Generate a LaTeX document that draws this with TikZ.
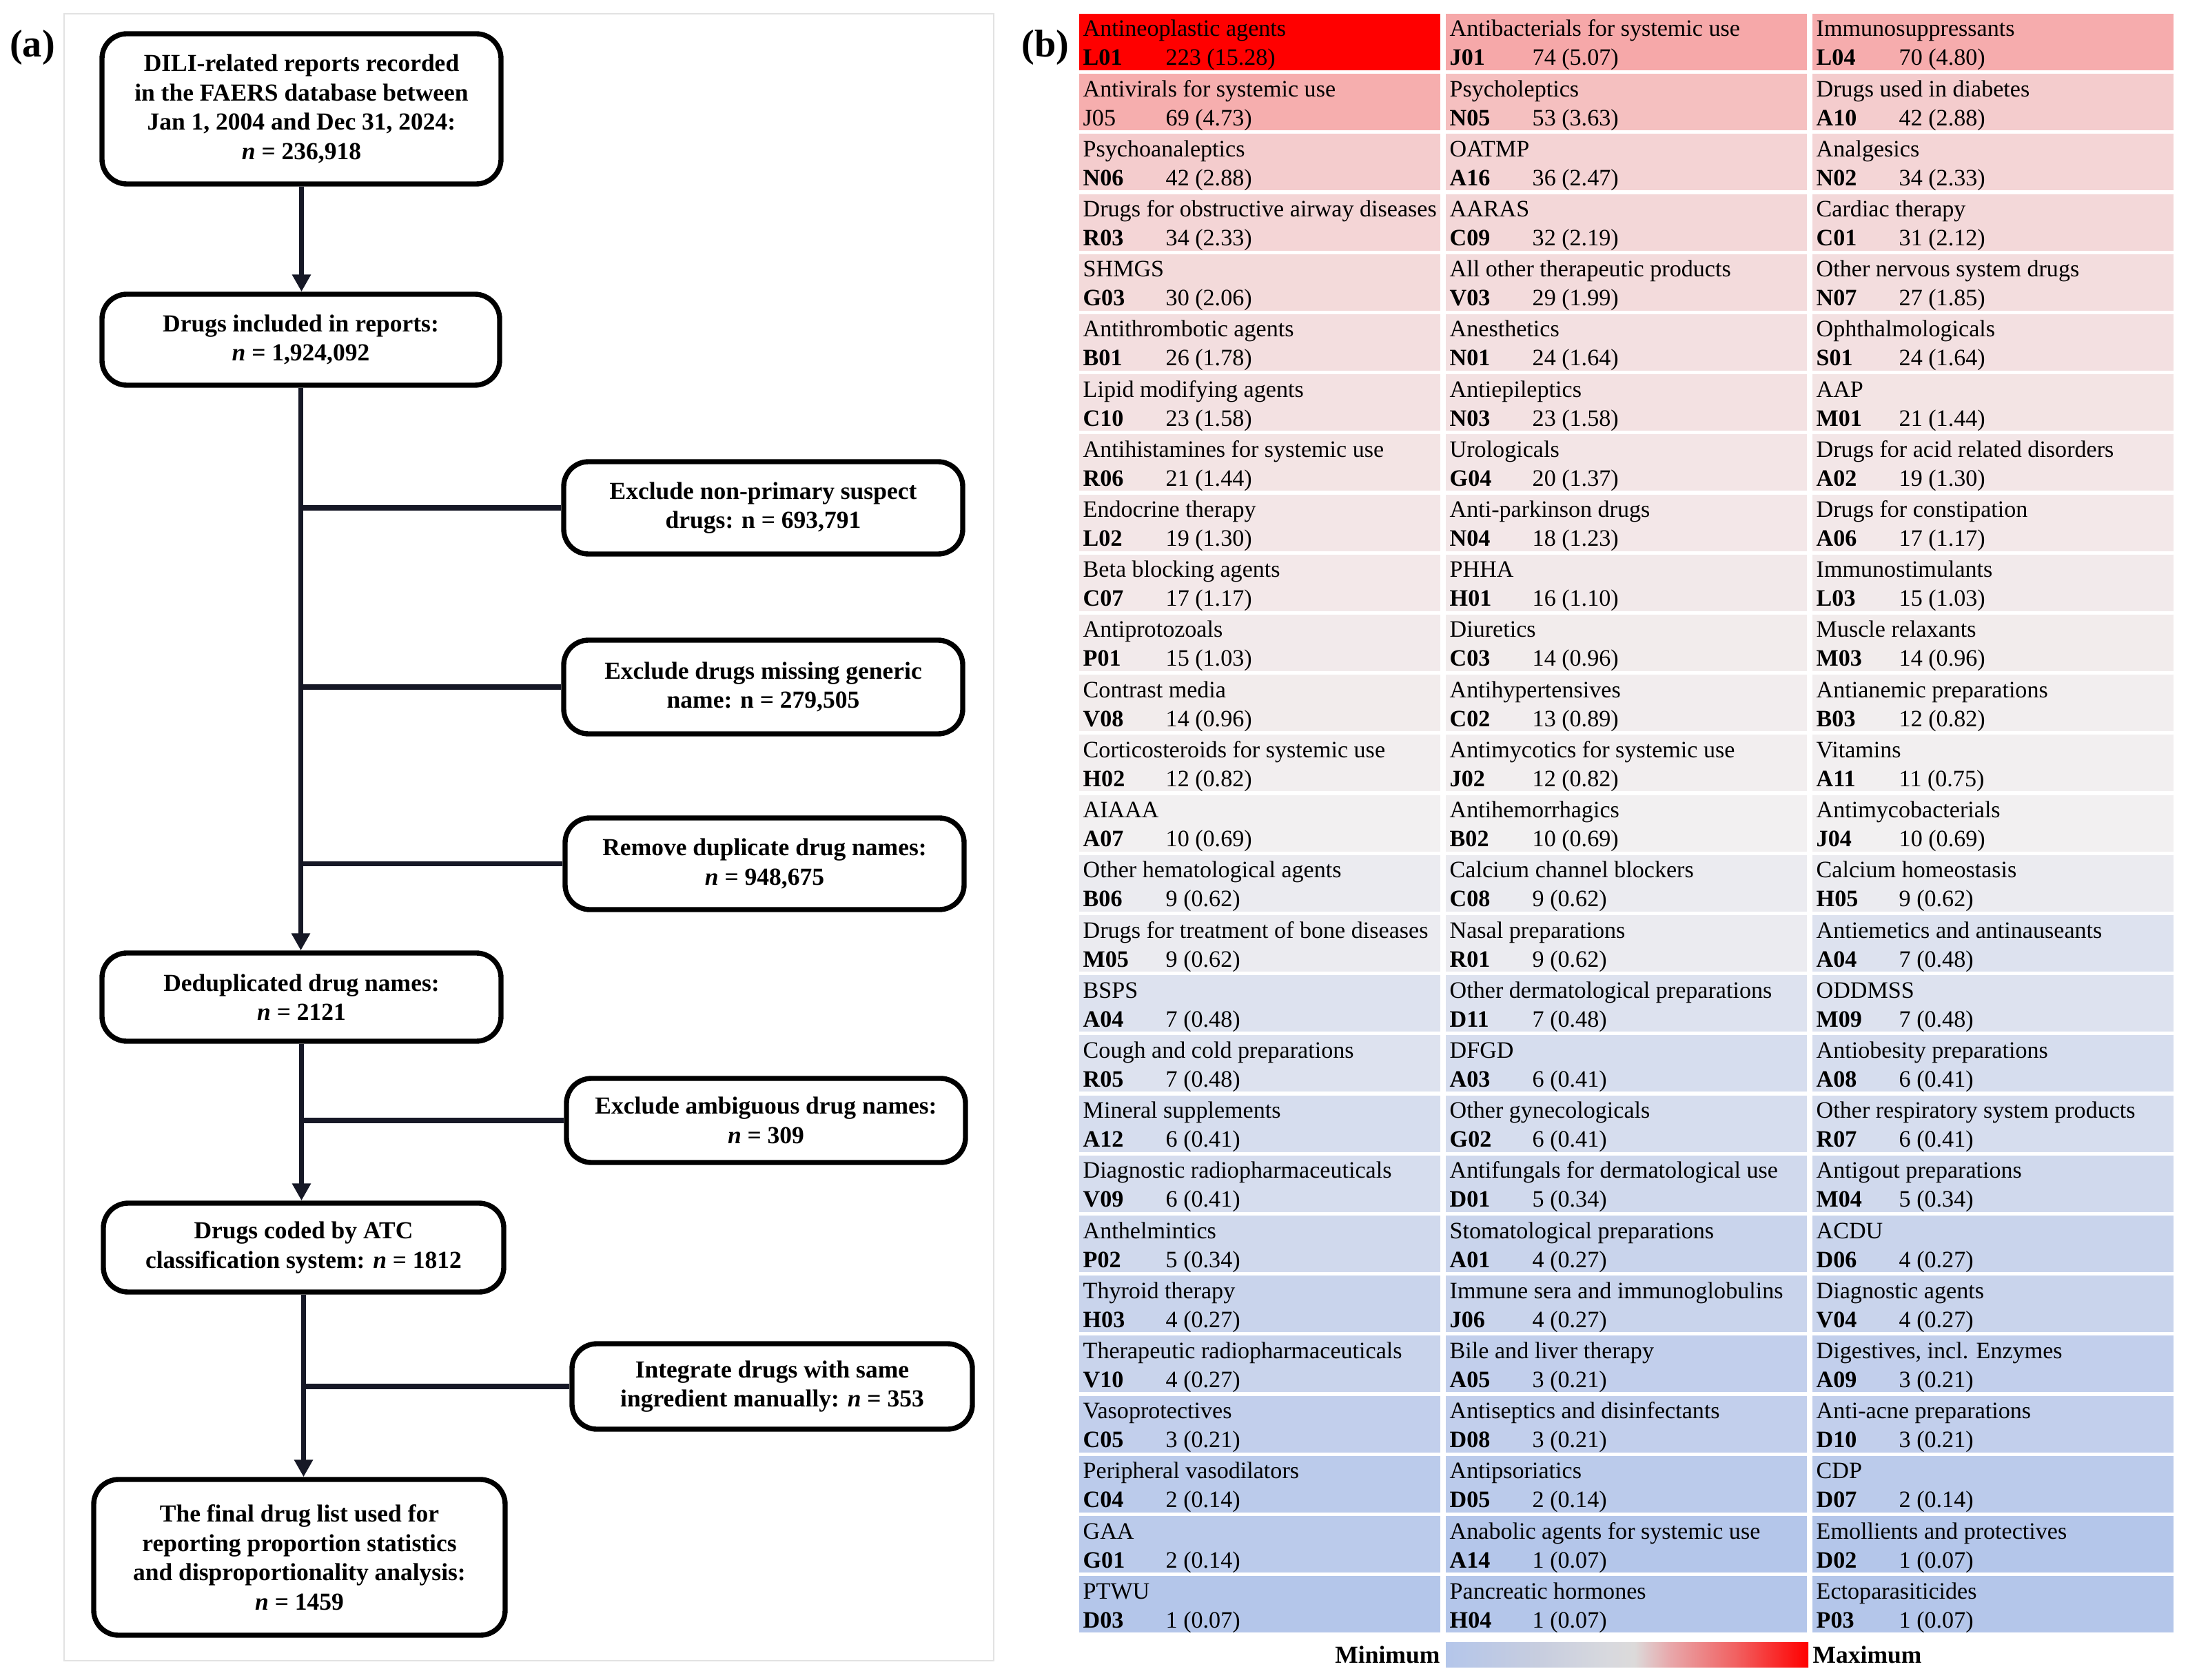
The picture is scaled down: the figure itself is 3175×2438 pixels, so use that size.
\documentclass[tikz,border=0pt]{standalone}
\usepackage{fontspec}
\setmainfont{Liberation Serif}
\usetikzlibrary{arrows.meta}
\definecolor{lowb}{RGB}{180,198,234}
\definecolor{midg}{RGB}{242,240,241}
\definecolor{hired}{RGB}{255,0,0}
\definecolor{trunk}{RGB}{22,24,38}
\definecolor{panelb}{RGB}{226,226,226}
\pgfdeclarehorizontalshading{cbarshade}{100bp}{rgb(0bp)=(0.706,0.776,0.918); rgb(25bp)=(0.706,0.776,0.918); rgb(37.5bp)=(0.780,0.804,0.875); rgb(47.5bp)=(0.847,0.851,0.871); rgb(51bp)=(0.863,0.855,0.855); rgb(56bp)=(0.910,0.655,0.667); rgb(65bp)=(0.945,0.380,0.380); rgb(75bp)=(1,0,0); rgb(100bp)=(1,0,0)}
\newcommand{\cellfont}{\fontsize{9.7}{11}\selectfont}
\newcommand{\boxfont}{\fontsize{10.1}{12.1}\selectfont\bfseries}
\newcommand{\hcell}[6]{%
  \pgfmathsetmacro{\hx}{ifthenelse(#2==1,1566,ifthenelse(#2==2,2098,2630))}%
  \pgfmathsetmacro{\hy}{20+(#1-1)*87.2}%
  \ifnum#5<10\relax
    \pgfmathsetmacro{\hp}{(#5-1)/9*100}%
    \colorlet{cellc}{midg!\hp!lowb}%
  \else
    \pgfmathsetmacro{\hp}{(#5-10)/213*100}%
    \colorlet{cellc}{hired!\hp!midg}%
  \fi
  \fill[cellc] (\hx,\hy) rectangle ++(524,82);
  \node[celltxt] (n#1-#2) at (\hx+5,\hy+33) {#3};
  \node[celltxt,font=\cellfont\bfseries] (k#1-#2) at (\hx+5,\hy+75) {#4};
  \node[celltxt] (v#1-#2) at (\hx+125,\hy+75) {#5 (#6)};
}
\begin{document}
\begin{tikzpicture}[x=0.1mm,y=-0.1mm,
  celltxt/.style={anchor=base west,inner sep=0pt,font=\cellfont},
  fbox/.style={draw=black,line width=2.1pt,rounded corners=3.6mm,align=center,font=\boxfont,inner sep=0pt,fill=white},
  conn/.style={draw=trunk,line width=2pt},
  arr/.style={conn,-{Triangle[length=2.5mm,width=2.6mm]}},
  plabel/.style={font=\fontsize{16}{18}\selectfont\bfseries,inner sep=0pt}]
\useasboundingbox (0,0) rectangle (3175,2438);
% panel (a) frame
\draw[panelb,line width=0.6pt] (93,20) rectangle (1442,2410);
\node[plabel] (la) at (47,69) {(a)};
\node[plabel] (lb) at (1517,69) {(b)};
% flowchart boxes
\node[fbox,minimum width=57.9mm,minimum height=21.8mm] (b1) at (437.5,158)
  {DILI-related reports recorded\\in the FAERS database between\\Jan 1, 2004 and Dec 31, 2024:\\\textit{n} = 236,918};
\node[fbox,minimum width=57.7mm,minimum height=13.2mm] (b2) at (436.5,493)
  {Drugs included in reports:\\\textit{n} = 1,924,092};
\node[fbox,minimum width=57.9mm,minimum height=13.4mm] (s1) at (1107.5,737)
  {Exclude non-primary suspect\\drugs: n = 693,791};
\node[fbox,minimum width=57.9mm,minimum height=13.6mm] (s2) at (1107.5,997)
  {Exclude drugs missing generic\\name: n = 279,505};
\node[fbox,minimum width=57.9mm,minimum height=13.3mm] (s3) at (1109.5,1253.5)
  {Remove duplicate drug names:\\\textit{n} = 948,675};
\node[fbox,minimum width=57.9mm,minimum height=12.8mm] (b3) at (437.5,1447)
  {Deduplicated drug names:\\\textit{n} = 2121};
\node[fbox,minimum width=57.9mm,minimum height=12.2mm] (s4) at (1111.5,1626)
  {Exclude ambiguous drug names:\\\textit{n} = 309};
\node[fbox,minimum width=58.1mm,minimum height=12.9mm] (b4) at (440.5,1810.5)
  {Drugs coded by ATC\\classification system: \textit{n} = 1812};
\node[fbox,minimum width=58.1mm,minimum height=12.4mm] (s5) at (1120.5,2012)
  {Integrate drugs with same\\ingredient manually: \textit{n} = 353};
\node[fbox,minimum width=59.7mm,minimum height=22.6mm] (b5) at (434.5,2260)
  {The final drug list used for\\reporting proportion statistics\\and disproportionality analysis:\\\textit{n} = 1459};
% connectors
\draw[arr] (b1.south) -- (b1.south |- b2.north);
\draw[arr] (b2.south) -- (b2.south |- b3.north);
\draw[arr] (b3.south) -- (b3.south |- b4.north);
\draw[arr] (b4.south) -- (b4.south |- b5.north);
\draw[conn] (s1.west) -- (s1.west -| b2.south);
\draw[conn] (s2.west) -- (s2.west -| b2.south);
\draw[conn] (s3.west) -- (s3.west -| b2.south);
\draw[conn] (s4.west) -- (s4.west -| b3.south);
\draw[conn] (s5.west) -- (s5.west -| b4.south);
% heatmap
\hcell{1}{1}{Antineoplastic agents}{L01}{223}{15.28}
\hcell{1}{2}{Antibacterials for systemic use}{J01}{74}{5.07}
\hcell{1}{3}{Immunosuppressants}{L04}{70}{4.80}
\hcell{2}{1}{Antivirals for systemic use}{\mdseries J05}{69}{4.73}
\hcell{2}{2}{Psycholeptics}{N05}{53}{3.63}
\hcell{2}{3}{Drugs used in diabetes}{A10}{42}{2.88}
\hcell{3}{1}{Psychoanaleptics}{N06}{42}{2.88}
\hcell{3}{2}{OATMP}{A16}{36}{2.47}
\hcell{3}{3}{Analgesics}{N02}{34}{2.33}
\hcell{4}{1}{Drugs for obstructive airway diseases}{R03}{34}{2.33}
\hcell{4}{2}{AARAS}{C09}{32}{2.19}
\hcell{4}{3}{Cardiac therapy}{C01}{31}{2.12}
\hcell{5}{1}{SHMGS}{G03}{30}{2.06}
\hcell{5}{2}{All other therapeutic products}{V03}{29}{1.99}
\hcell{5}{3}{Other nervous system drugs}{N07}{27}{1.85}
\hcell{6}{1}{Antithrombotic agents}{B01}{26}{1.78}
\hcell{6}{2}{Anesthetics}{N01}{24}{1.64}
\hcell{6}{3}{Ophthalmologicals}{S01}{24}{1.64}
\hcell{7}{1}{Lipid modifying agents}{C10}{23}{1.58}
\hcell{7}{2}{Antiepileptics}{N03}{23}{1.58}
\hcell{7}{3}{AAP}{M01}{21}{1.44}
\hcell{8}{1}{Antihistamines for systemic use}{R06}{21}{1.44}
\hcell{8}{2}{Urologicals}{G04}{20}{1.37}
\hcell{8}{3}{Drugs for acid related disorders}{A02}{19}{1.30}
\hcell{9}{1}{Endocrine therapy}{L02}{19}{1.30}
\hcell{9}{2}{Anti-parkinson drugs}{N04}{18}{1.23}
\hcell{9}{3}{Drugs for constipation}{A06}{17}{1.17}
\hcell{10}{1}{Beta blocking agents}{C07}{17}{1.17}
\hcell{10}{2}{PHHA}{H01}{16}{1.10}
\hcell{10}{3}{Immunostimulants}{L03}{15}{1.03}
\hcell{11}{1}{Antiprotozoals}{P01}{15}{1.03}
\hcell{11}{2}{Diuretics}{C03}{14}{0.96}
\hcell{11}{3}{Muscle relaxants}{M03}{14}{0.96}
\hcell{12}{1}{Contrast media}{V08}{14}{0.96}
\hcell{12}{2}{Antihypertensives}{C02}{13}{0.89}
\hcell{12}{3}{Antianemic preparations}{B03}{12}{0.82}
\hcell{13}{1}{Corticosteroids for systemic use}{H02}{12}{0.82}
\hcell{13}{2}{Antimycotics for systemic use}{J02}{12}{0.82}
\hcell{13}{3}{Vitamins}{A11}{11}{0.75}
\hcell{14}{1}{AIAAA}{A07}{10}{0.69}
\hcell{14}{2}{Antihemorrhagics}{B02}{10}{0.69}
\hcell{14}{3}{Antimycobacterials}{J04}{10}{0.69}
\hcell{15}{1}{Other hematological agents}{B06}{9}{0.62}
\hcell{15}{2}{Calcium channel blockers}{C08}{9}{0.62}
\hcell{15}{3}{Calcium homeostasis}{H05}{9}{0.62}
\hcell{16}{1}{Drugs for treatment of bone diseases}{M05}{9}{0.62}
\hcell{16}{2}{Nasal preparations}{R01}{9}{0.62}
\hcell{16}{3}{Antiemetics and antinauseants}{A04}{7}{0.48}
\hcell{17}{1}{BSPS}{A04}{7}{0.48}
\hcell{17}{2}{Other dermatological preparations}{D11}{7}{0.48}
\hcell{17}{3}{ODDMSS}{M09}{7}{0.48}
\hcell{18}{1}{Cough and cold preparations}{R05}{7}{0.48}
\hcell{18}{2}{DFGD}{A03}{6}{0.41}
\hcell{18}{3}{Antiobesity preparations}{A08}{6}{0.41}
\hcell{19}{1}{Mineral supplements}{A12}{6}{0.41}
\hcell{19}{2}{Other gynecologicals}{G02}{6}{0.41}
\hcell{19}{3}{Other respiratory system products}{R07}{6}{0.41}
\hcell{20}{1}{Diagnostic radiopharmaceuticals}{V09}{6}{0.41}
\hcell{20}{2}{Antifungals for dermatological use}{D01}{5}{0.34}
\hcell{20}{3}{Antigout preparations}{M04}{5}{0.34}
\hcell{21}{1}{Anthelmintics}{P02}{5}{0.34}
\hcell{21}{2}{Stomatological preparations}{A01}{4}{0.27}
\hcell{21}{3}{ACDU}{D06}{4}{0.27}
\hcell{22}{1}{Thyroid therapy}{H03}{4}{0.27}
\hcell{22}{2}{Immune sera and immunoglobulins}{J06}{4}{0.27}
\hcell{22}{3}{Diagnostic agents}{V04}{4}{0.27}
\hcell{23}{1}{Therapeutic radiopharmaceuticals}{V10}{4}{0.27}
\hcell{23}{2}{Bile and liver therapy}{A05}{3}{0.21}
\hcell{23}{3}{Digestives, incl. Enzymes}{A09}{3}{0.21}
\hcell{24}{1}{Vasoprotectives}{C05}{3}{0.21}
\hcell{24}{2}{Antiseptics and disinfectants}{D08}{3}{0.21}
\hcell{24}{3}{Anti-acne preparations}{D10}{3}{0.21}
\hcell{25}{1}{Peripheral vasodilators}{C04}{2}{0.14}
\hcell{25}{2}{Antipsoriatics}{D05}{2}{0.14}
\hcell{25}{3}{CDP}{D07}{2}{0.14}
\hcell{26}{1}{GAA}{G01}{2}{0.14}
\hcell{26}{2}{Anabolic agents for systemic use}{A14}{1}{0.07}
\hcell{26}{3}{Emollients and protectives}{D02}{1}{0.07}
\hcell{27}{1}{PTWU}{D03}{1}{0.07}
\hcell{27}{2}{Pancreatic hormones}{H04}{1}{0.07}
\hcell{27}{3}{Ectoparasiticides}{P03}{1}{0.07}
% colour bar
\shade[shading=cbarshade] (2098,2383) rectangle (2624,2419);
\node[anchor=base east,inner sep=0pt,font=\boxfont] (mn) at (2090,2413) {Minimum};
\node[anchor=base west,inner sep=0pt,font=\boxfont] (mx) at (2630,2413) {Maximum};
\end{tikzpicture}
\end{document}
